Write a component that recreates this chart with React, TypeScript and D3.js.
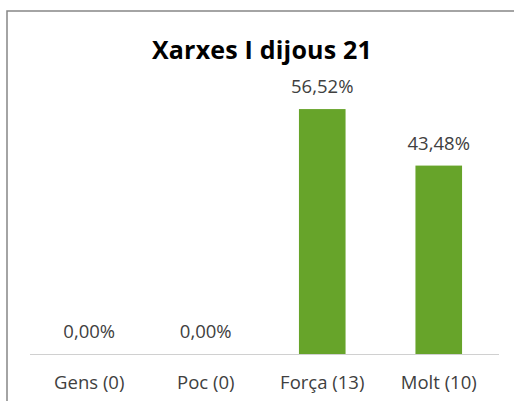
import React from 'react'
import * as d3 from 'd3'

const categories = ['Gens (0)', 'Poc (0)', 'Força (13)', 'Molt (10)']
const percents = [0, 0, 56.52, 43.48]
const title = 'Xarxes I dijous 21'

const W = 514
const H = 401

export default function App () {
  const x = d3.scaleBand().domain(categories).range([31, 497]).paddingInner(0.6).paddingOuter(0.3)
  const y = d3.scaleLinear().domain([0, 60]).range([354, 94])
  const fmt = (v: number) => d3.format('.2f')(v).replace('.', ',') + '%'
  const font = "'Open Sans', 'DejaVu Sans', sans-serif"

  return (
    <svg width={W} height={H} style={{position: 'absolute', left: 0, top: 0, fontFamily: font}}>
      <rect x={0} y={0} width={W} height={H} fill='#fff' />
      <rect x={7} y={11} width={W + 10} height={H + 10} fill='none' stroke='#868686' strokeWidth={1.5} />
      <text x={262} y={59} textAnchor='middle' fontSize={25} fontWeight='bold' fill='#000' letterSpacing={0.2}>{title}</text>
      {categories.map((c, i) => (
        <g key={c}>
          <rect x={x(c)} y={y(percents[i])} width={x.bandwidth()} height={y(0) - y(percents[i])} fill='#67a42a' />
          <text x={x(c)! + x.bandwidth() / 2} y={y(percents[i]) - 16} textAnchor='middle' fontSize={18.5} fill='#404040'>{fmt(percents[i])}</text>
          <text x={x(c)! + x.bandwidth() / 2} y={389} textAnchor='middle' fontSize={18.5} fill='#404040'>{c}</text>
        </g>
      ))}
      <line x1={30} x2={499} y1={354.5} y2={354.5} stroke='#d0d0d0' strokeWidth={1} />
    </svg>
  )
}
